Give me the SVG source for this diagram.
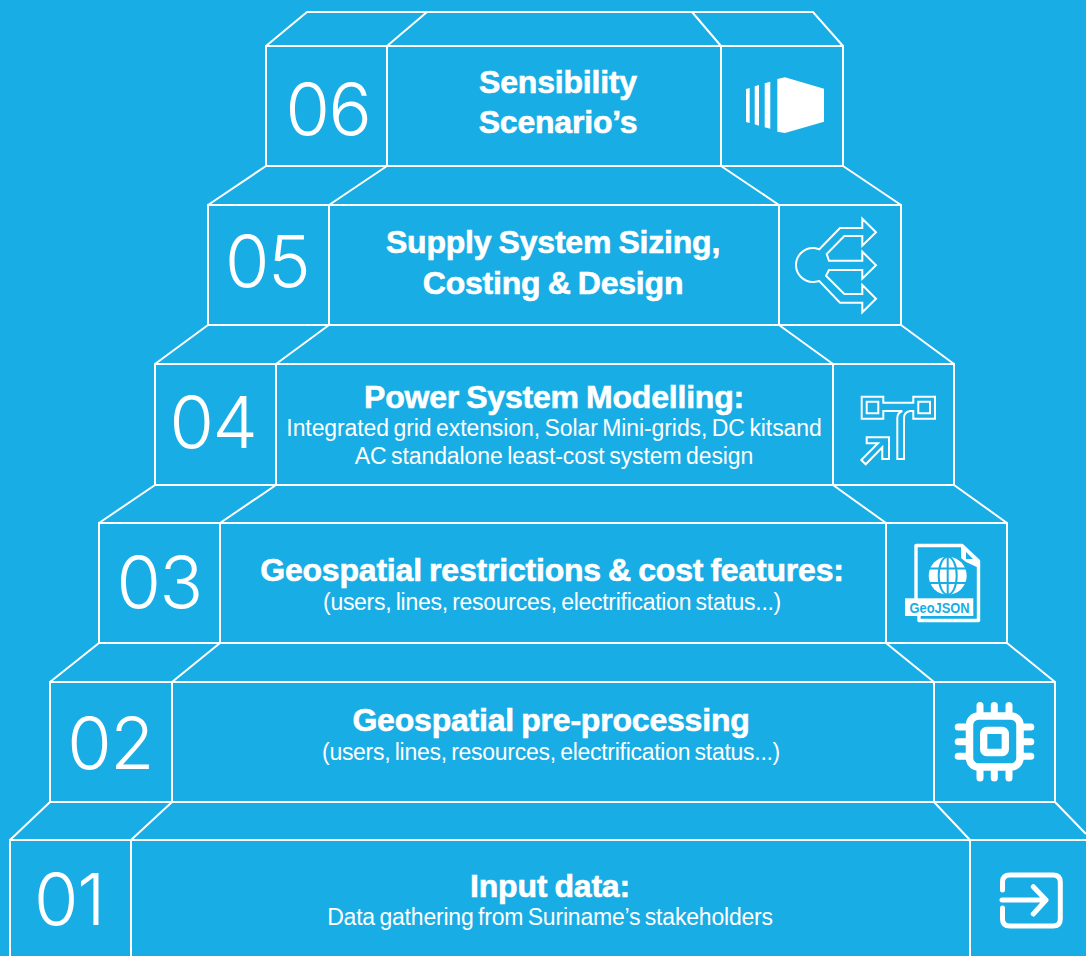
<svg xmlns="http://www.w3.org/2000/svg" width="1086" height="956" viewBox="0 0 1086 956">
<style>
.l{fill:none;stroke:#fff;stroke-width:2}
.n{font-family:Inter,"Liberation Sans",sans-serif;font-weight:300;font-size:72px;fill:#fff;text-anchor:middle;letter-spacing:-1.500px}
.t{font-family:"Liberation Sans",Arial,sans-serif;font-weight:700;font-size:32px;fill:#fff;stroke:#fff;stroke-width:.6;text-anchor:middle;letter-spacing:-.2px;word-spacing:-1.5px}
.s{font-family:"Liberation Sans",Arial,sans-serif;font-size:23px;fill:#fff;text-anchor:middle;letter-spacing:-.2px;word-spacing:-1.7px}
.s2{letter-spacing:-.28px}
.s4{letter-spacing:-.1px}
.i{fill:none;stroke:#fff;stroke-width:2}
.w{fill:none;stroke:#fff;stroke-linecap:round;stroke-linejoin:round}
</style>
<rect width="1086" height="956" fill="#18ade5"/>
<g id="connectors" class="l">
<path d="M266 46L307 12H813L843 46M387 46L427 12M721 46L692 12"/>
<path d="M208 205L266 166M329 205L387 166M779 205L721 166M901 205L843 166"/>
<path d="M155 364L208 325M276 364L329 325M833 364L779 325M954 364L901 325"/>
<path d="M99 523L155 485M220 523L276 485M886 523L833 485M1007 523L954 485"/>
<path d="M50 682L99 643M172 682L220 643M934 682L886 643M1055 682L1007 643"/>
<path d="M10 840L50 802M131 840L172 802M970 840L934 802M1086 834L1055 802"/>
</g>
<g id="step6"><path class="l" d="M266 46H843V166H266ZM387 46V166M721 46V166"/><text class="n" x="328" y="135">06</text><text class="t" x="558" y="93">Sensibility</text><text class="t" x="558" y="133">Scenario’s</text>
<g fill="#fff"><path d="M777.3 79L785 77.3L824 88.7V121.7L785 133L777.3 131.700Z"/><path d="M764.7 83.3L770.3 81.7V128.7L764.7 127.3Z"/><path d="M754.7 86.3L759 85V125.7L754.7 124.3Z"/><path d="M746 89L749.7 88V123L746 122Z"/></g></g>
<g id="step5"><path class="l" d="M208 205H901V325H208ZM329 205V325M779 205V325"/><text class="n" x="267" y="287">05</text><text class="t" x="553" y="253">Supply System Sizing,</text><text class="t" x="553" y="294">Costing &amp; Design</text>
<path class="i" d="M819.3 249.3L840 228H862.3V218.7L876 232.3L862.3 245.7V236H844.3L826.7 254L829 260.7H862.3V251.7L876 265.3L862.3 278.7V270H829L826 275.7L844.3 294H862.3V285L876 298.700L862.3 312.3V302.7H840L819.3 281Q815 282 813 282A17 17 0 0 1 813 248Q815 248 819.3 249.300Z"/></g>
<g id="step4"><path class="l" d="M155 364H954V485H155ZM276 364V485M833 364V485"/><text class="n" x="213" y="448">04</text><text class="t" x="554" y="408">Power System Modelling:</text><text class="s s4" x="554" y="436">Integrated grid extension, Solar Mini-grids, DC kitsand</text><text class="s s4" x="554" y="464">AC standalone least-cost system design</text>
<path class="i" d="M861.7 396.7H883.3V402.7H913.3V396.7H935V418.7H913.3V411H910Q904 412 904 418V459H897.3V418Q897.3 413 902.3 411H883.3V418.7H861.700ZM866.7 401.7V413.3H878.3V401.7ZM918.3 401.7V413.3H930V401.7ZM866.7 437.3H889V459H882.3V447.3L865.7 464.3L861.3 460L878 443.3H866.7Z"/></g>
<g id="step3"><path class="l" d="M99 523H1007V643H99ZM220 523V643M886 523V643"/><text class="n" x="159" y="608">03</text><text class="t" x="552" y="581">Geospatial restrictions &amp; cost features:</text><text class="s s2" x="552" y="610">(users, lines, resources, electrification status...)</text>
<path fill="none" stroke="#fff" stroke-width="3.4" stroke-linejoin="round" d="M916 600V545.500H962L978.500 561V620.500H919V616"/><path fill="#fff" d="M961 546L979 563V568L966 562L961 558Z"/><path fill="#18ade5" d="M966 552L973 559H966Z"/>
<circle cx="947.700" cy="575.700" r="19" fill="#fff"/><g stroke="#18ade5" stroke-width="2" fill="none"><ellipse cx="947.700" cy="575.700" rx="9" ry="19"/><path d="M947.700 556V595M928 568.500H967M928 583H967"/></g>
<rect x="905" y="598.300" width="68.300" height="17.700" fill="#fff"/><text x="939.500" y="612.500" font-family="Liberation Sans,sans-serif" font-weight="700" font-size="14" fill="#18ade5" text-anchor="middle" textLength="60" lengthAdjust="spacingAndGlyphs">GeoJSON</text></g>
<g id="step2"><path class="l" d="M50 682H1055V802H50ZM172 682V802M934 682V802"/><text class="n" x="110" y="769">02</text><text class="t" x="551" y="731">Geospatial pre-processing</text><text class="s s2" x="551" y="760">(users, lines, resources, electrification status...)</text>
<g class="w"><rect x="969.500" y="716" width="50.500" height="51" rx="9" stroke-width="7.500"/><rect x="983.700" y="730.400" width="21.600" height="22.100" rx="3" stroke-width="7.300"/><path stroke-width="7" d="M980 705.500V712M994.300 705.500V712M1009 705.500V712M980 771V778M994.300 771V778M1009 771V778M958.200 727H966M958.200 741.700H966M958.200 756.300H966M1023 727H1030.800M1023 741.700H1030.800M1023 756.300H1030.800"/></g></g>
<g id="step1"><path class="l" d="M10 956V840H1086M131 840V956M970 840V956"/><text class="n" x="69" y="925">01</text><text class="t" x="550" y="897">Input data:</text><text class="s" x="550" y="925">Data gathering from Suriname’s stakeholders</text>
<path class="w" stroke-width="5" d="M1002.500 890V882Q1002.500 875 1010 875H1053Q1060.300 875 1060.300 882V919Q1060.300 926 1053 926H1010Q1002.500 926 1002.500 919V908M1002 900H1046M1033.300 886.700L1046 900L1033.300 914"/></g>
</svg>
